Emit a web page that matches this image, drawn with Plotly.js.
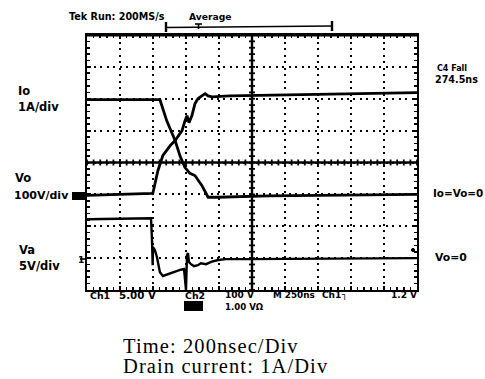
<!DOCTYPE html>
<html><head><meta charset="utf-8">
<script src="https://cdn.plot.ly/plotly-3.0.1.min.js"></script>
<style>html,body{margin:0;padding:0;background:#fff;}#chart{width:485px;height:379px;}</style>
</head><body><div id="chart"></div>
<script>
// Data in oscilloscope divisions (x: 0..10 time div, y: 0..8 vertical div)
const vdTime = [0, 2.21, 2.42, 2.67, 2.82, 2.97, 3.12, 3.27, 3.48, 3.67, 3.94, 5.5, 10];
const vdVal  = [5.97, 5.97, 5.3, 4.69, 4.2, 3.84, 3.66, 3.59, 3.28, 2.91, 2.91, 2.95, 3.0];

const ioTime = [0, 1.97, 2.0, 2.15, 2.3, 2.52, 2.67, 2.88, 2.97, 3.03, 3.09, 3.18, 3.27, 3.36, 3.48, 3.58, 3.67, 3.79, 4.33, 10];
const ioVal  = [2.97, 3.03, 3.06, 3.75, 4.22, 4.53, 4.69, 5.0, 5.31, 5.47, 5.25, 5.47, 5.84, 6.0, 6.09, 6.16, 6.09, 6.06, 6.09, 6.19];

const vgTime = [0, 1.94, 1.97, 1.97, 1.99, 2.0, 2.06, 2.12, 2.15, 2.21, 2.3, 2.45, 2.67, 2.82, 2.94, 3.0, 3.03, 3.06, 3.09, 3.15, 3.24, 3.36, 3.45, 3.61, 3.76, 3.97, 4.21, 4.82, 10];
const vgVal  = [2.22, 2.25, 1.56, 1.34, 0.78, 1.34, 1.25, 1.03, 0.88, 0.56, 0.44, 0.5, 0.59, 0.63, 0.66, 0.0, 1.09, 1.16, 0.88, 0.81, 0.75, 0.78, 0.84, 0.81, 0.88, 0.94, 0.97, 0.97, 1.0];

const leftLabels = ["Io", "1A/div", "Vo", "100V/div", "Va", "5V/div"];
const rightLabels = ["C4 Fall", "274.5ns", "Io=Vo=0", "Vo=0"];
const readout = ["Ch1", "5.00 V", "Ch2", "100 V", "M 250ns", "Ch1", "\u2510", "1.2 V", "1.00 V\u03a9"];
const header = ["Tek Run: 200MS/s", "Average"];
const caption = ["Time: 200nsec/Div", "Drain current: 1A/Div"];

// plot box in pixels
const L = 87, R = 417, T = 35, B = 290;
const px = x => (x - L) / (R - L);
const py = y => (B - y) / (B - T);

const lineStyle = {color: '#000', width: 2.8};
const traces = [
  {x: vdTime, y: vdVal, mode: 'lines', line: lineStyle, name: 'Vd', hoverinfo: 'skip'},
  {x: ioTime, y: ioVal, mode: 'lines', line: lineStyle, name: 'Io', hoverinfo: 'skip'},
  {x: vgTime, y: vgVal, mode: 'lines', line: {color: '#000', width: 2.4}, name: 'Vg', hoverinfo: 'skip'}
];

const bold = (s) => ({family: 'DejaVu Sans, Verdana, sans-serif', size: s, color: '#000', weight: 'bold'});
const ann = [];
function A(text, x, y, size, xanchor, font, yanchor) {
  ann.push({text: text, xref: 'paper', yref: 'paper', x: px(x), y: py(y), xanchor: xanchor || 'left', yanchor: yanchor || 'middle',
            showarrow: false, font: font || bold(size)});
}
A('<b>' + header[0] + '</b>', 67, 16, 9.6);
A('<b>' + header[1] + '</b>', 187, 16, 9.2);
A('<b>' + leftLabels[0] + '</b>', 16, 91, 11.5);
A('<b>' + leftLabels[1] + '</b>', 16, 107, 11.5);
A('<b>' + leftLabels[2] + '</b>', 13, 178, 11.5);
A('<b>' + leftLabels[3] + '</b>', 12, 195, 11);
A('<b>' + leftLabels[4] + '</b>', 17, 250, 11.5);
A('<b>' + leftLabels[5] + '</b>', 17, 266, 11.5);
A('<b>1</b>', 76, 260, 9);
A('<b>' + rightLabels[0] + '</b>', 435, 68, 8);
A('<b>' + rightLabels[1] + '</b>', 433, 79, 9.6);
A('<b>' + rightLabels[2] + '</b>', 431, 193, 10.4);
A('<b>' + rightLabels[3] + '</b>', 433, 257, 10.8);
A('<b>' + readout[0] + '</b>', 88, 295, 9.4);
A('<b>' + readout[1] + '</b>', 117, 295, 10.3);
A('<b>' + readout[2] + '</b>', 183, 295, 9.4);
A('<b>' + readout[3] + '</b>', 223, 295, 9);
A('<b>' + readout[4] + '</b>', 271, 295, 8.8);
A('<b>' + readout[5] + '</b>', 320, 295, 9);
A('<b>' + readout[6] + '</b>', 339, 295, 9);
A('<b>' + readout[7] + '</b>', 389, 295, 9);
A('<b>' + readout[8] + '</b>', 223, 307, 8.6);
const serif = {family: 'Liberation Serif, Times New Roman, serif', size: 20.5, color: '#000'};
const track = s => '<span style="letter-spacing:1.1px">' + s + '</span>';
A(track(caption[0]), 121, 346, 20.5, 'left', serif);
A(track(caption[1]), 121, 378.5, 20.5, 'left', serif, 'bottom');

const shapes = [];
// center crosshair
shapes.push({type: 'line', xref: 'x', yref: 'y', x0: 5, x1: 5, y0: 0, y1: 8, line: {color: '#000', width: 2.4}});
shapes.push({type: 'line', xref: 'x', yref: 'y', x0: 0, x1: 10, y0: 4, y1: 4, line: {color: '#000', width: 2.4}});
for (let i = 0; i <= 40; i++) {
  const v = i * 0.2;
  shapes.push({type: 'line', xref: 'x', yref: 'y', xsizemode: 'pixel', xanchor: 5, x0: -3, x1: 3, y0: v, y1: v, line: {color: '#000', width: 1.8}});
}
for (let i = 0; i <= 50; i++) {
  const v = i * 0.2;
  shapes.push({type: 'line', xref: 'x', yref: 'y', ysizemode: 'pixel', yanchor: 4, y0: -3, y1: 3, x0: v, x1: v, line: {color: '#000', width: 1.8}});
}
// heavier top frame
shapes.push({type: 'line', xref: 'paper', yref: 'paper', x0: 0, x1: 1, y0: 1, y1: 1, line: {color: '#000', width: 2.8}});
// ground reference markers
shapes.push({type: 'rect', xref: 'paper', yref: 'paper', x0: px(72), x1: px(87), y0: py(200), y1: py(192), fillcolor: '#000', line: {width: 0}});
shapes.push({type: 'rect', xref: 'paper', yref: 'paper', x0: px(184), x1: px(203), y0: py(311), y1: py(301), fillcolor: '#000', line: {width: 0}});
shapes.push({type: 'line', xref: 'paper', yref: 'paper', x0: px(80), x1: px(87), y0: py(259), y1: py(259), line: {color: '#000', width: 1.6}});
shapes.push({type: 'line', xref: 'paper', yref: 'paper', x0: px(411), x1: px(415), y0: py(250), y1: py(250), line: {color: '#000', width: 2.2}});
shapes.push({type: 'line', xref: 'paper', yref: 'paper', x0: px(413), x1: px(413), y0: py(248), y1: py(252), line: {color: '#000', width: 2.2}});
// trigger bracket above the screen
shapes.push({type: 'line', xref: 'paper', yref: 'paper', x0: px(166), x1: px(332), y0: py(27.5), y1: py(26), line: {color: '#000', width: 1.6}});
shapes.push({type: 'line', xref: 'paper', yref: 'paper', x0: px(166), x1: px(166), y0: py(22), y1: py(32), line: {color: '#000', width: 2.4}});
shapes.push({type: 'line', xref: 'paper', yref: 'paper', x0: px(332), x1: px(332), y0: py(21), y1: py(31), line: {color: '#000', width: 2.4}});
shapes.push({type: 'line', xref: 'paper', yref: 'paper', x0: px(195), x1: px(202), y0: py(24), y1: py(24), line: {color: '#000', width: 1.6}});
shapes.push({type: 'line', xref: 'paper', yref: 'paper', x0: px(198.5), x1: px(198.5), y0: py(24), y1: py(29), line: {color: '#000', width: 1.6}});

const axisBase = {
  showline: true, linewidth: 2.2, linecolor: '#000', mirror: 'allticks',
  ticks: 'inside', ticklen: 4, tickwidth: 1.8, tickcolor: '#000', dtick: 1, tick0: 0,
  showticklabels: false, zeroline: false, fixedrange: true,
  showgrid: true, gridcolor: '#000', gridwidth: 2, griddash: '2px,4.5px',
  minor: {dtick: 0.2, tick0: 0, ticks: 'inside', ticklen: 3, tickwidth: 1.6, tickcolor: '#000', showgrid: false}
};
const layout = {
  width: 485, height: 379,
  margin: {l: L, r: 485 - R, t: T, b: 379 - B, pad: 0},
  paper_bgcolor: '#fff', plot_bgcolor: '#fff',
  showlegend: false,
  xaxis: Object.assign({}, axisBase, {range: [0, 10]}),
  yaxis: Object.assign({}, axisBase, {range: [0, 8]}),
  annotations: ann,
  shapes: shapes
};
Plotly.newPlot('chart', traces, layout, {staticPlot: true, displayModeBar: false});
</script></body></html>
